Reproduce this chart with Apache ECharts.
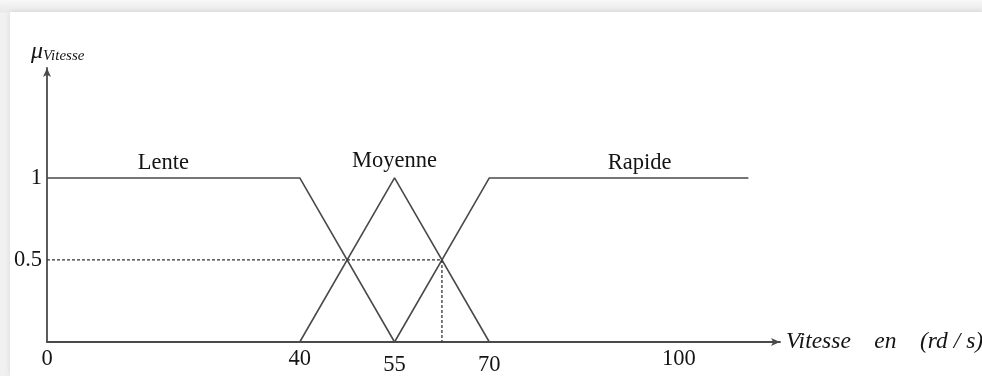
<!DOCTYPE html>
<html>
<head>
<meta charset="utf-8">
<script src="https://cdn.jsdelivr.net/npm/echarts@6/dist/echarts.min.js"></script>
<style>
  html, body { margin: 0; padding: 0; width: 982px; height: 376px; overflow: hidden;
    background: linear-gradient(#f8f8f8, #e9e9e9 12px, #f1f1f1 13px); }
  #sheet { position: absolute; left: 10px; top: 12px; right: 0; bottom: 0; background: #fff;
    box-shadow: 0 0 6px rgba(0,0,0,0.10); }
  #chart { position: absolute; left: 0; top: 0; width: 982px; height: 376px; }
</style>
</head>
<body>
<div id="sheet"></div>
<div id="chart"></div>
<script>
// Membership functions of the speed variable (rd/s)
const speedTicks = [0, 40, 55, 70, 100];
const degreeTicks = [0.5, 1];
const setNames = ['Lente', 'Moyenne', 'Rapide'];
const lente = [[0, 1], [40, 1], [55, 0]];
const moyenne = [[40, 0], [55, 1], [70, 0]];
const rapide = [[55, 0], [70, 1], [111, 1]];
// Cut at degree 0.5 down to the Moyenne/Rapide crossing
const cutLine = [[0, 0.5], [62.5, 0.5], [62.5, 0]];
// Anchor of each set name, in (speed, degree)
const nameAnchors = [[18.4, 1], [55, 1], [93.8, 1]];

const serif = '"Liberation Serif", "DejaVu Serif", serif';
const ink = '#4a4a4a';
const textInk = '#141414';
const fs = 22.5;

function setSeries(name, data, anchor) {
  return {
    name: name,
    type: 'line',
    data: data,
    symbol: 'none',
    silent: true,
    lineStyle: { color: ink, width: 1.6 },
    markPoint: {
      symbol: 'circle',
      symbolSize: 0,
      data: [{ coord: anchor }],
      label: {
        show: true,
        position: 'top',
        distance: name === 'Moyenne' ? 5 : 3,
        formatter: name,
        color: textInk,
        fontFamily: serif,
        fontSize: fs
      }
    }
  };
}

const chart = echarts.init(document.getElementById('chart'));
chart.setOption({
  backgroundColor: 'transparent',
  animation: false,
  grid: { left: 47, right: 202, top: 68, bottom: 34, outerBoundsMode: 'none', containLabel: false },
  xAxis: {
    type: 'value',
    min: 0,
    max: 116,
    splitLine: { show: false },
    axisTick: { show: false },
    axisLine: { lineStyle: { color: ink, width: 1.8 }, symbol: ['none', 'arrow'], symbolSize: [6, 9] },
    axisLabel: {
      customValues: speedTicks,
      margin: 6,
      color: textInk,
      fontFamily: serif,
      fontSize: fs,
      formatter: v => (v === 55 || v === 70) ? '{low|' + v + '}' : String(v),
      rich: { low: { fontFamily: serif, fontSize: fs, color: textInk, padding: [6, 0, 0, 0] } }
    },
    name: 'Vitesse    en    (rd / s)',
    nameLocation: 'end',
    nameGap: 6,
    nameTextStyle: { fontFamily: serif, fontStyle: 'italic', fontSize: 23.5, color: textInk, align: 'left', verticalAlign: 'middle' }
  },
  yAxis: {
    type: 'value',
    min: 0,
    max: 1.67,
    splitLine: { show: false },
    axisTick: { show: false },
    axisLine: { lineStyle: { color: ink, width: 1.8 }, symbol: ['none', 'arrow'], symbolSize: [6, 9] },
    axisLabel: {
      customValues: degreeTicks,
      margin: 5,
      color: textInk,
      fontFamily: serif,
      fontSize: fs,
      formatter: v => String(v)
    },
    name: '{mu|μ}{sub|Vitesse}',
    nameLocation: 'end',
    nameGap: 4,
    nameTextStyle: {
      align: 'left',
      padding: [0, 0, 0, -16],
      rich: {
        mu: { fontFamily: serif, fontStyle: 'italic', fontSize: 24, color: textInk },
        sub: { fontFamily: serif, fontStyle: 'italic', fontSize: 15, color: textInk, padding: [10, 0, 0, 0] }
      }
    }
  },
  series: [
    setSeries(setNames[0], lente, nameAnchors[0]),
    setSeries(setNames[1], moyenne, nameAnchors[1]),
    setSeries(setNames[2], rapide, nameAnchors[2]),
    {
      name: 'coupe',
      type: 'line',
      data: cutLine,
      symbol: 'none',
      silent: true,
      lineStyle: { color: '#333', width: 1.3, type: [3, 2] }
    }
  ]
});
</script>
</body>
</html>
